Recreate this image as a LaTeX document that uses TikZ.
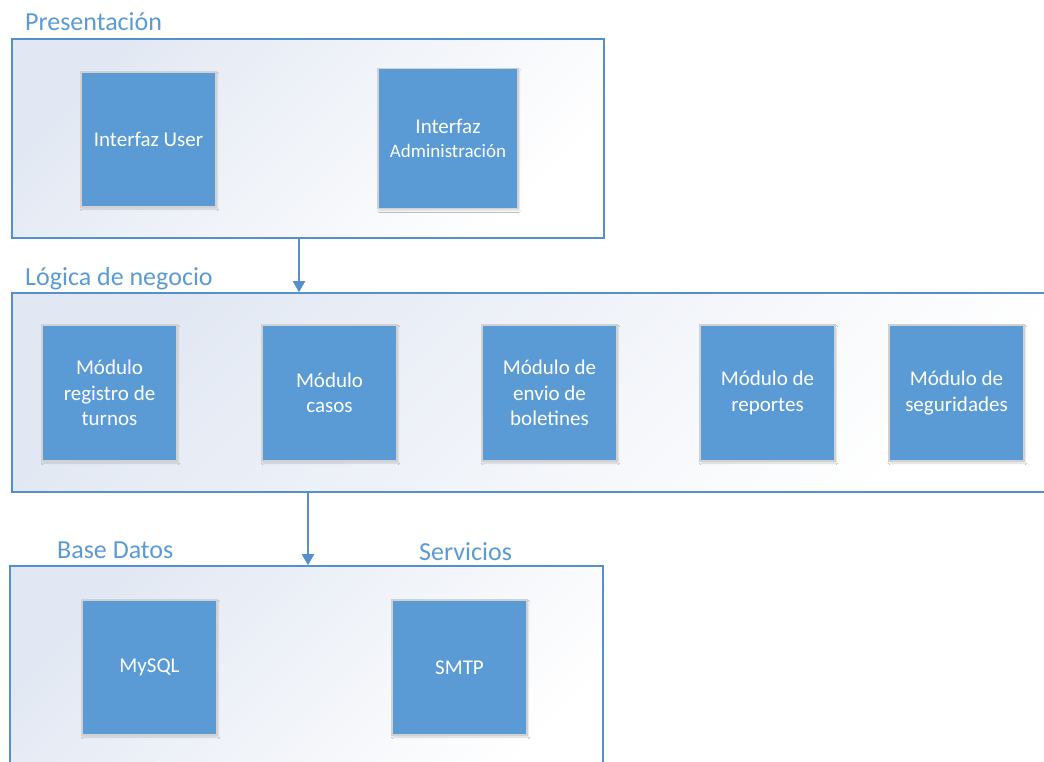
\documentclass[tikz,border=0pt]{standalone}
\usepackage{fontspec}
\setmainfont{Carlito}
\usetikzlibrary{arrows.meta,shadows.blur}
\definecolor{officeblue}{HTML}{5B9BD5}
\definecolor{frameblue}{HTML}{5590CC}
\definecolor{paleblue}{HTML}{E2E8F3}
\begin{document}
\begin{tikzpicture}[x=1pt,y=-1pt,
  layer/.style={draw=frameblue, line width=1.6pt, rectangle, inner sep=0pt,
    top color=paleblue, middle color=white, bottom color=white, shading angle=45},
  module/.style={rectangle, fill=officeblue, draw=black!18, line width=1.2pt,
    minimum width=135pt, minimum height=136pt, inner sep=2pt,
    text=white, align=center, font=\fontsize{21}{25.5}\selectfont,
    blur shadow={shadow xshift=1pt, shadow yshift=-2pt, shadow blur steps=6, shadow opacity=15}},
  layertitle/.style={anchor=base west, inner sep=0pt, text=officeblue,
    font=\fontsize{26}{30}\selectfont},
  flow/.style={draw=frameblue, line width=1.8pt, -{Triangle[length=11pt,width=12pt]}}
]
\useasboundingbox (0,0) rectangle (1044,762);
\clip (0,0) rectangle (1044,762);
\fill[white] (0,0) rectangle (1044,762);

% presentation layer
\node[layer, minimum width=592pt, minimum height=199pt] (pres) at (308,138.5) {};
\node[layertitle] (tpres) at (25,31) {Presentación};
\node[module, minimum height=135pt] (iuser) at (148.5,139.5) {Interfaz User};
\node[module, minimum width=140pt, minimum height=140pt] (iadmin) at (448,138.5)
  {Interfaz\\[-2pt]{\fontsize{19}{22}\selectfont Administración}};

% business logic layer
\node[layer, minimum width=1048pt, minimum height=199pt] (logic) at (536,392.5) {};
\node[layertitle] (tlogic) at (25,285) {Lógica de negocio};
\node[module] (m1) at (109.5,393) {Módulo\\registro de\\turnos};
\node[module] (m2) at (329.5,393) {Módulo\\casos};
\node[module] (m3) at (549.5,393) {Módulo de\\envio de\\boletines};
\node[module] (m4) at (767.5,393) {Módulo de\\reportes};
\node[module] (m5) at (956.5,393) {Módulo de\\seguridades};

% data and services layer
\node[layer, minimum width=593pt, minimum height=234pt] (data) at (306.5,683) {};
\node[layertitle] (tdata) at (57,558) {Base Datos};
\node[layertitle] (tserv) at (419,560) {Servicios};
\node[module, minimum height=135pt] (mysql) at (149.5,667.5) {MySQL};
\node[module, minimum height=135pt] (smtp) at (459.5,667.5) {SMTP};

% connectors between layers
\coordinate (c1) at (299,0);
\coordinate (c2) at (308,0);
\draw[flow] (pres.south -| c1) -- (logic.north -| c1);
\draw[flow] (logic.south -| c2) -- (data.north -| c2);
\end{tikzpicture}
\end{document}
